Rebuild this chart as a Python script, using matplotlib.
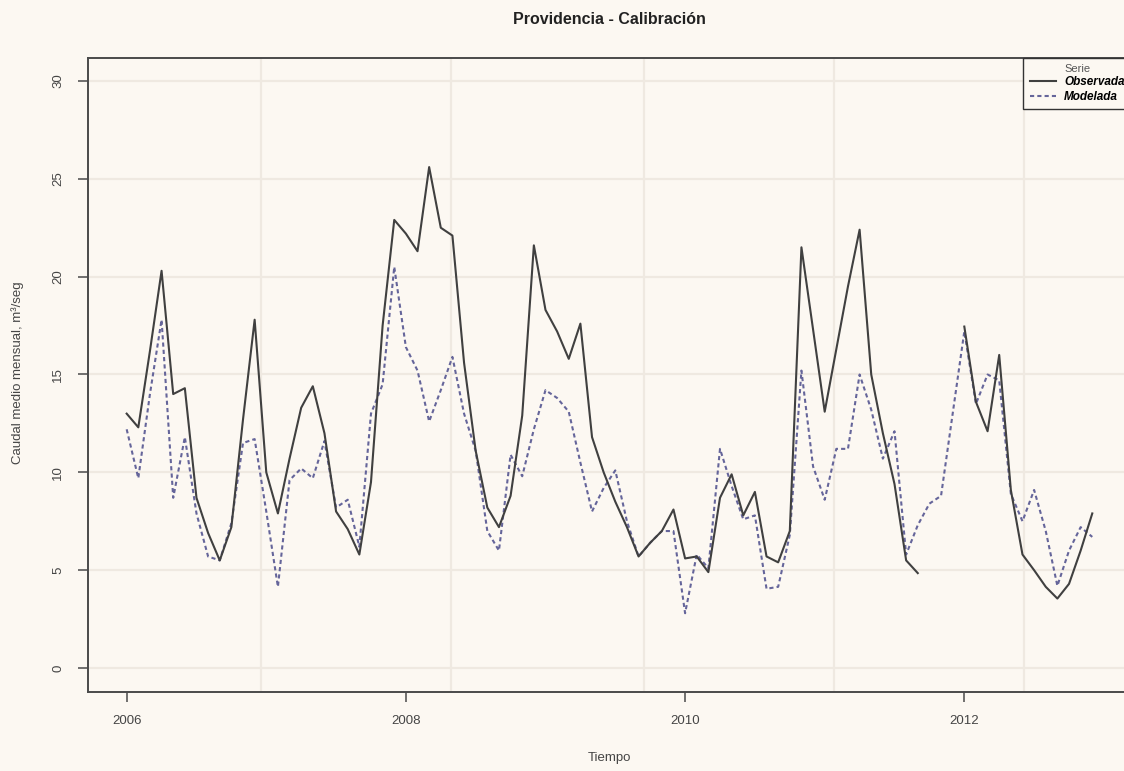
import numpy as np
import matplotlib
matplotlib.use("Agg")
import matplotlib.pyplot as plt

# Monthly mean discharge, Providencia station (m3/s), Jan 2006 - Dec 2012
start_year = 2006
observada = [
    13.0, 12.3, 16.2, 20.3, 14.0, 14.3, 8.7, 6.9, 5.5, 7.2, 12.7, 17.8,
    10.0, 7.9, 10.7, 13.3, 14.4, 12.0, 8.0, 7.1, 5.8, 9.5, 17.5, 22.9,
    22.2, 21.3, 25.6, 22.5, 22.1, 15.6, 11.1, 8.2, 7.2, 8.8, 12.9, 21.6,
    18.3, 17.2, 15.8, 17.6, 11.8, 10.0, 8.5, 7.2, 5.7, 6.4, 7.0, 8.1,
    5.6, 5.7, 4.9, 8.7, 9.9, 7.8, 9.0, 5.7, 5.4, 7.0, 21.5, 17.3,
    13.1, 16.3, 19.5, 22.4, 15.0, 12.0, 9.4, 5.5, 4.85, np.nan, np.nan, np.nan,
    17.45, 13.6, 12.1, 16.0, 9.1, 5.8, 5.0, 4.15, 3.55, 4.3, 6.0, 7.9,
]
modelada = [
    12.2, 9.7, 14.0, 17.8, 8.7, 11.8, 7.9, 5.7, 5.5, 7.4, 11.5, 11.7,
    8.0, 4.15, 9.6, 10.2, 9.7, 11.6, 8.2, 8.6, 6.2, 13.0, 14.5, 20.5,
    16.4, 15.2, 12.6, 14.2, 15.9, 13.0, 11.1, 7.0, 6.0, 10.9, 9.8, 12.2,
    14.2, 13.8, 13.1, 10.5, 8.0, 9.2, 10.1, 7.5, 5.7, 6.4, 7.0, 7.0,
    2.8, 5.8, 5.1, 11.2, 9.3, 7.6, 7.8, 4.05, 4.15, 6.8, 15.2, 10.3,
    8.6, 11.2, 11.2, 15.0, 13.2, 10.7, 12.1, 5.8, 7.3, 8.4, 8.8, 13.0,
    17.2, 13.5, 15.0, 14.7, 8.9, 7.5, 9.1, 7.0, 4.2, 6.0, 7.2, 6.7,
]
x_ticks = [2006, 2008, 2010, 2012]
y_ticks = [0, 5, 10, 15, 20, 25, 30]

titulo = "Providencia - Calibración"
etiqueta_x = "Tiempo"
etiqueta_y = "Caudal medio mensual, m³/seg"
series_nombres = ["Observada", "Modelada"]
leyenda_titulo = "Serie"

# ---- style ----
BG = "#fcf8f2"
GRID = "#efe9e1"
AXIS = "#4a4a4a"
TEXT = "#454545"
OBS_COLOR = "#404040"
MOD_COLOR = "#65659a"
VGRID = [2006.965, 2008.326, 2009.703, 2011.064, 2012.425]

plt.rcParams["font.family"] = ["Liberation Sans", "DejaVu Sans"]

t = start_year + np.arange(len(observada)) / 12.0

fig = plt.figure(figsize=(11.24, 7.71), dpi=100, facecolor=BG)
ax = fig.add_axes([88 / 1124, 79.5 / 771, 1043 / 1124, 634 / 771], facecolor=BG)

ax.set_xlim(2005.723, 2013.194)
ax.set_ylim(-1.2, 31.2)

for yv in y_ticks:
    ax.axhline(yv, color=GRID, lw=1.6, zorder=0)
for xv in VGRID:
    ax.axvline(xv, color=GRID, lw=1.6, zorder=0)

ax.plot(t, observada, color=OBS_COLOR, lw=1.5, ls="-", label=series_nombres[0], zorder=3)
ax.plot(t, modelada, color=MOD_COLOR, lw=1.5, ls=(0, (2.0, 1.5)), label=series_nombres[1], zorder=2)

ax.set_xticks(x_ticks)
ax.set_xticklabels([str(v) for v in x_ticks])
ax.set_yticks(y_ticks)
ax.set_yticklabels([str(v) for v in y_ticks], rotation=90, va="center")
ax.tick_params(axis="both", direction="out", length=7, width=1.1, color=AXIS,
               labelcolor=TEXT, labelsize=9.5)
ax.tick_params(axis="x", pad=10)
ax.tick_params(axis="y", pad=10)

for side in ["left", "bottom", "top", "right"]:
    ax.spines[side].set_color(AXIS)
    ax.spines[side].set_linewidth(1.4)

fig.text(18 / 1124, 1 - 373 / 771, etiqueta_y, rotation=90, ha="center", va="center",
         fontsize=9.5, color=TEXT)
fig.text(609 / 1124, 1 - 758 / 771, etiqueta_x, ha="center", va="center",
         fontsize=9.5, color=TEXT)
fig.text(609 / 1124, 1 - 19 / 771, titulo, ha="center", va="center",
         fontsize=11.5, fontweight="bold", color="#222222")

leg = ax.legend(title=leyenda_titulo, loc="upper right", borderaxespad=0,
                fancybox=False, framealpha=1, facecolor=BG, edgecolor="#333333",
                prop={"weight": "bold", "style": "italic", "size": 8.5},
                title_fontsize=8, handlelength=2.2, handletextpad=0.7,
                labelspacing=0.2, borderpad=0.55)
leg.get_frame().set_linewidth(1.0)
leg.get_title().set_color("#555555")
leg._legend_box.align = "center"

fig.savefig("out.png", dpi=100, facecolor=BG)
